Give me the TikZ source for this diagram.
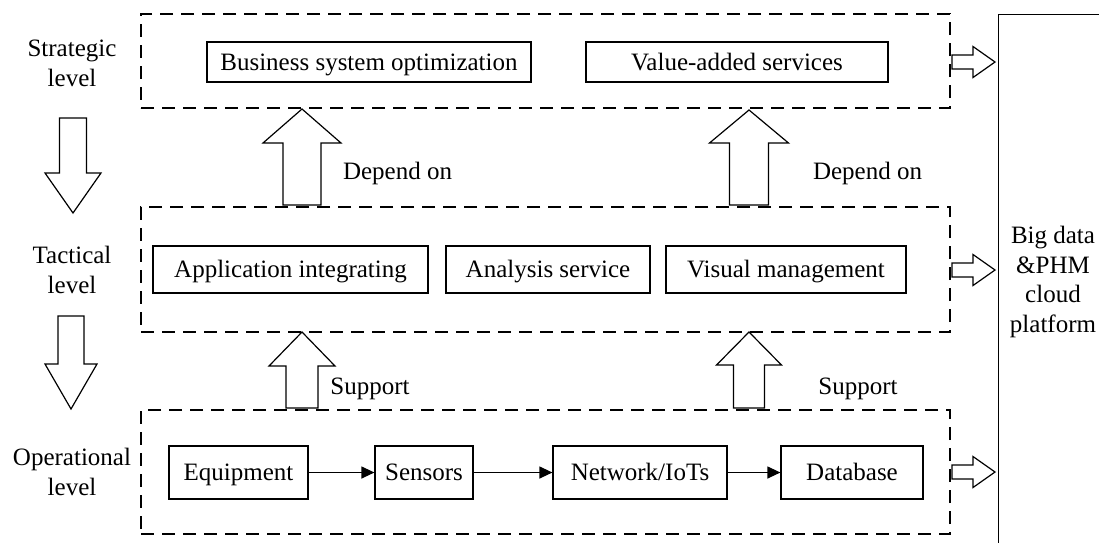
\documentclass[tikz,border=0pt]{standalone}
\usepackage{fontspec}
\setmainfont{Liberation Serif}
\usetikzlibrary{arrows.meta}

% block arrows: centre, tip/top, head base, tail, head half-width, shaft half-width
\newcommand\blockup[6]{%
  \draw[hollow] (#1-#6,#4) -- (#1-#6,#3) -- (#1-#5,#3) -- (#1,#2)
    -- (#1+#5,#3) -- (#1+#6,#3) -- (#1+#6,#4) -- cycle;}
\newcommand\blockdown[6]{%
  \draw[hollow] (#1-#6,#2) -- (#1+#6,#2) -- (#1+#6,#3) -- (#1+#5,#3)
    -- (#1,#4) -- (#1-#5,#3) -- (#1-#6,#3) -- cycle;}
\newcommand\blockright[6]{%
  \draw[hollow] (#2,#1-#6) -- (#3,#1-#6) -- (#3,#1-#5) -- (#4,#1)
    -- (#3,#1+#5) -- (#3,#1+#6) -- (#2,#1+#6) -- cycle;}

\begin{document}
\begin{tikzpicture}[x=1pt,y=-1pt,
  every node/.style={font=\fontsize{25}{30}\selectfont, inner sep=0pt},
  item/.style={draw, line width=1.2pt, align=center, text height=19pt, text depth=3pt},
  layer/.style={draw, line width=1.2pt, dash pattern=on 13pt off 8pt},
  hollow/.style={draw, line width=1.2pt, fill=white, line join=miter},
  flow/.style={-{Triangle[length=13pt,width=12pt]}, line width=1.2pt},
  lbl/.style={align=center}
]
\useasboundingbox (0,0) rectangle (1099,542);
\clip (0,0) rectangle (1099,542);

% the three layers
\node[layer, minimum width=809pt, minimum height=94pt]  (S) at (545.5,61) {};
\node[layer, minimum width=809pt, minimum height=125pt] (T) at (545.5,269.5) {};
\node[layer, minimum width=809pt, minimum height=124pt] (O) at (545.5,472) {};

% layer names
\node[lbl] (sl) at (72,63)  {Strategic\\level};
\node[lbl] (tl) at (72,270) {Tactical\\level};
\node[lbl] (ol) at (72,472) {Operational\\level};

% strategic items
\node[item, minimum width=324pt, minimum height=40pt] (bso) at (369,62) {Business system optimization};
\node[item, minimum width=302pt, minimum height=40pt] (vas) at (737,62) {Value-added services};

% tactical items
\node[item, minimum width=275pt, minimum height=47pt] (app) at (290.5,269.5) {Application integrating};
\node[item, minimum width=204pt, minimum height=47pt] (ana) at (548,269.5) {Analysis service};
\node[item, minimum width=240pt, minimum height=47pt] (vis) at (786,269.5) {Visual management};

% operational chain
\node[item, minimum width=139pt, minimum height=53pt] (eq)  at (238.5,472.5) {Equipment};
\node[item, minimum width=98pt,  minimum height=53pt] (se)  at (424,472.5)   {Sensors};
\node[item, minimum width=174pt, minimum height=53pt] (net) at (640,472.5)   {Network/IoTs};
\node[item, minimum width=142pt, minimum height=53pt] (db)  at (852,472.5)   {Database};
\draw[flow] (eq) -- (se);
\draw[flow] (se) -- (net);
\draw[flow] (net) -- (db);

% platform
\node[draw, line width=1.2pt, anchor=north west, minimum width=140pt, minimum height=560pt] (cloud) at (998,14) {};
\node[lbl, font=\fontsize{25}{29.5}\selectfont] (cloudtxt) at (1053,282) {Big data\\\&PHM\\cloud\\platform};

% dependencies between layers
\blockup{302}{109}{143}{205}{39}{19}
\blockup{749}{110}{143}{205}{39.5}{19.5}
\blockup{302}{332}{366}{408}{33}{16}
\blockup{749}{332}{365}{408}{32.5}{15.5}
\node (dep1) at (397.5,173) {Depend on};
\node (dep2) at (867.5,173) {Depend on};
\node (sup1) at (370,389) {Support};
\node (sup2) at (858,389) {Support};

% top-down flow on the left
\blockdown{73}{118}{173}{213}{28}{13.5}
\blockdown{71}{316}{364}{409}{26}{13}

% feeds into the platform
\blockright{62}{952}{973}{995}{15.5}{7}
\blockright{270}{952}{973}{995}{15.5}{7}
\blockright{472}{952}{973}{995}{15.5}{7}
\end{tikzpicture}
\end{document}
